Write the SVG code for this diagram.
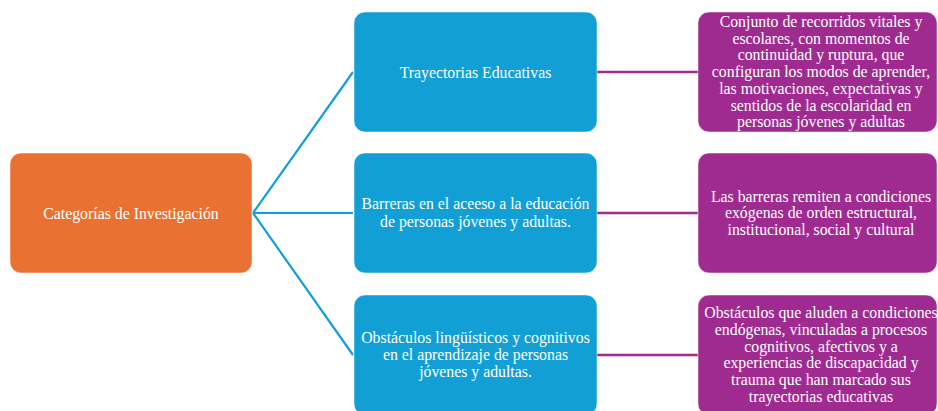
<svg xmlns="http://www.w3.org/2000/svg" width="938" height="411" viewBox="0 0 938 411">
<style>
  .box { stroke: #ffffff; stroke-opacity: 0.5; stroke-width: 1; }
  .root { fill: #E97132; }
  .cat { fill: #129FD6; }
  .def { fill: #A02B90; }
  text { font-family: "Liberation Serif", "Times New Roman", serif; font-size: 15.8px; fill: #ffffff; text-anchor: middle; }
  .c-blue { stroke: #129FD6; stroke-width: 2.2; fill: none; }
  .c-purple { stroke: #A02B90; stroke-width: 2.5; fill: none; }
</style>
<rect width="938" height="411" fill="#ffffff"/>
<g id="connectors">
  <line class="c-blue" x1="253" y1="213" x2="353" y2="72"/>
  <line class="c-blue" x1="253" y1="213" x2="353" y2="213"/>
  <line class="c-blue" x1="253" y1="213" x2="353" y2="355"/>
  <line class="c-purple" x1="597" y1="72" x2="698" y2="72"/>
  <line class="c-purple" x1="597" y1="213" x2="698" y2="213"/>
  <line class="c-purple" x1="597" y1="355" x2="698" y2="355"/>
</g>
<g id="root">
  <rect class="box root" x="10" y="153" width="242" height="120" rx="11"/>
  <text x="131" y="218.5">Categorías de Investigación</text>
</g>
<g id="cat1">
  <rect class="box cat" x="354" y="12" width="243" height="120" rx="11"/>
  <text x="475.5" y="77.5">Trayectorias Educativas</text>
</g>
<g id="cat2">
  <rect class="box cat" x="354" y="153" width="243" height="120" rx="11"/>
  <text x="475.5" y="209">Barreras en el aceeso a la educación</text>
  <text x="475.5" y="226.5">de personas jóvenes y adultas.</text>
</g>
<g id="cat3">
  <rect class="box cat" x="354" y="295" width="243" height="120" rx="11"/>
  <text x="475.5" y="343">Obstáculos lingüísticos y cognitivos</text>
  <text x="475.5" y="360">en el aprendizaje de personas</text>
  <text x="475.5" y="377">jóvenes y adultas.</text>
</g>
<g id="def1">
  <rect class="box def" x="698" y="12" width="239" height="120" rx="11"/>
  <text x="821" y="27">Conjunto de recorridos vitales y</text>
  <text x="821" y="43.7">escolares, con momentos de</text>
  <text x="821" y="60.4">continuidad y ruptura, que</text>
  <text x="821" y="77.1">configuran los modos de aprender,</text>
  <text x="821" y="93.8">las motivaciones, expectativas y</text>
  <text x="821" y="110.5">sentidos de la escolaridad en</text>
  <text x="821" y="127.2">personas jóvenes y adultas</text>
</g>
<g id="def2">
  <rect class="box def" x="698" y="153" width="239" height="120" rx="11"/>
  <text x="821" y="201.5">Las barreras remiten a condiciones</text>
  <text x="821" y="218">exógenas de orden estructural,</text>
  <text x="821" y="234.5">institucional, social y cultural</text>
</g>
<g id="def3">
  <rect class="box def" x="698" y="295" width="239" height="120" rx="11"/>
  <text x="821" y="318">Obstáculos que aluden a condiciones</text>
  <text x="821" y="334.8">endógenas, vinculadas a procesos</text>
  <text x="821" y="351.6">cognitivos, afectivos y a</text>
  <text x="821" y="368.4">experiencias de discapacidad y</text>
  <text x="821" y="385.2">trauma que han marcado sus</text>
  <text x="821" y="402">trayectorias educativas</text>
</g>
</svg>
